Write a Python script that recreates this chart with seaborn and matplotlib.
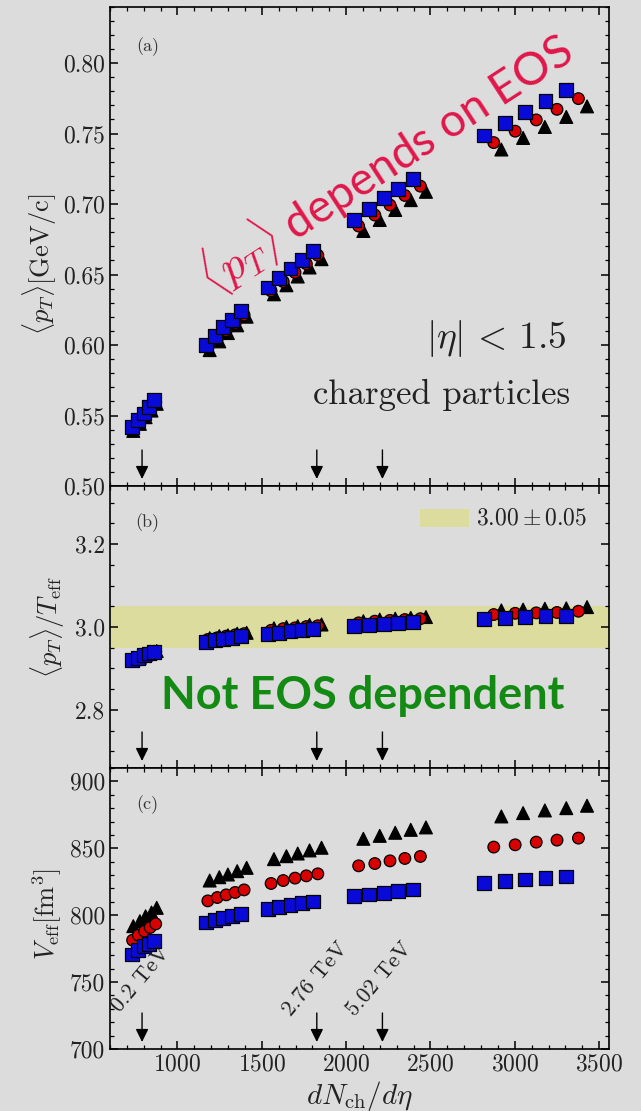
import numpy as np
import pandas as pd
import matplotlib
matplotlib.use("Agg")
import matplotlib.pyplot as plt
import seaborn as sns
from matplotlib.ticker import MultipleLocator, FormatStrFormatter
from matplotlib.patches import Rectangle

# ---------------- data ----------------
eos_names = ["triangle", "circle", "square"]

x_square = [730, 765, 800, 833, 863, 1168, 1223, 1272, 1321, 1375,
            1535, 1602, 1670, 1738, 1805, 2045, 2133, 2223, 2309, 2397,
            2817, 2940, 3059, 3182, 3301]
x_circle = [734, 768, 805, 838, 871, 1180, 1236, 1289, 1342, 1395,
            1555, 1627, 1697, 1764, 1832, 2074, 2170, 2260, 2348, 2440,
            2875, 3002, 3127, 3250, 3377]
x_triangle = [738, 777, 811, 846, 877, 1191, 1248, 1299, 1354, 1410,
              1572, 1646, 1713, 1783, 1854, 2102, 2199, 2291, 2383, 2473,
              2920, 3049, 3178, 3305, 3428]

pt_square = [0.5417, 0.5467, 0.5514, 0.5562, 0.5609, 0.6002, 0.6066, 0.6128, 0.6178, 0.6242,
             0.6408, 0.6476, 0.6543, 0.6604, 0.6668, 0.6887, 0.6965, 0.7040, 0.7108, 0.7179,
             0.7486, 0.7573, 0.7651, 0.7733, 0.7811]
pt_circle = [0.5403, 0.5453, 0.5500, 0.5547, 0.5595, 0.5981, 0.6043, 0.6102, 0.6154, 0.6213,
             0.6384, 0.6450, 0.6514, 0.6576, 0.6637, 0.6844, 0.6922, 0.6993, 0.7061, 0.7127,
             0.7436, 0.7517, 0.7597, 0.7672, 0.7748]
pt_triangle = [0.5391, 0.5441, 0.5488, 0.5535, 0.5583, 0.5964, 0.6026, 0.6085, 0.6140, 0.6201,
               0.6360, 0.6424, 0.6486, 0.6550, 0.6609, 0.6809, 0.6887, 0.6958, 0.7028, 0.7087,
               0.7387, 0.7469, 0.7547, 0.7618, 0.7693]

ratio_square = [2.921, 2.926, 2.932, 2.936, 2.940, 2.964, 2.969, 2.971, 2.973, 2.978,
                2.984, 2.986, 2.990, 2.992, 2.995, 3.002, 3.004, 3.007, 3.009, 3.011,
                3.019, 3.022, 3.024, 3.026, 3.027]
ratio_circle = [2.920, 2.926, 2.932, 2.938, 2.941, 2.970, 2.974, 2.978, 2.981, 2.984,
                2.992, 2.996, 2.998, 3.001, 3.003, 3.010, 3.014, 3.016, 3.018, 3.020,
                3.030, 3.033, 3.034, 3.035, 3.038]
ratio_triangle = [2.920, 2.926, 2.932, 2.937, 2.942, 2.973, 2.978, 2.980, 2.984, 2.986,
                  2.997, 3.000, 3.002, 3.005, 3.006, 3.014, 3.018, 3.020, 3.022, 3.024,
                  3.040, 3.042, 3.044, 3.045, 3.048]

veff_square = [770.6, 774.1, 776.8, 778.8, 780.8, 794.5, 796.5, 798.2, 799.5, 800.7,
               804.5, 806.0, 807.5, 809.0, 810.2, 814.2, 815.5, 816.7, 818.0, 819.2,
               824.2, 825.4, 826.7, 827.9, 828.9]
veff_circle = [781.3, 785.0, 788.0, 790.8, 793.5, 810.7, 813.2, 815.2, 817.0, 818.9,
               823.7, 825.9, 827.7, 829.4, 830.9, 836.9, 838.6, 840.6, 842.4, 843.9,
               850.9, 852.6, 854.6, 856.1, 857.6]
veff_triangle = [791.8, 795.5, 799.2, 802.0, 805.5, 825.9, 828.4, 830.4, 832.9, 835.4,
                 841.9, 844.1, 846.1, 848.4, 850.4, 857.1, 859.3, 861.6, 863.8, 865.6,
                 873.8, 876.3, 878.3, 880.0, 881.8]

arrow_x = [790, 1826, 2215]
energy_labels = ["0.2 TeV", "2.76 TeV", "5.02 TeV"]
energy_label_x = [785, 1818, 2198]

band_center = 3.00
band_halfwidth = 0.05

# ---------------- table ----------------
frames = []
for name, xs, pts, rs, vs in [
        ("triangle", x_triangle, pt_triangle, ratio_triangle, veff_triangle),
        ("circle", x_circle, pt_circle, ratio_circle, veff_circle),
        ("square", x_square, pt_square, ratio_square, veff_square)]:
    frames.append(pd.DataFrame({"dNch": xs, "mean_pt": pts, "ratio": rs,
                                "veff": vs, "eos": name}))
df = pd.concat(frames, ignore_index=True)

# ---------------- style ----------------
sns.set_theme(style="ticks")
bg = "#dcdcdc"
plt.rcParams.update({
    "font.family": ["cmr10", "DejaVu Serif"],
    "mathtext.fontset": "cm",
    "axes.formatter.use_mathtext": True,
    "axes.unicode_minus": False,
    "figure.facecolor": bg, "axes.facecolor": bg, "savefig.facecolor": bg,
    "axes.edgecolor": "black", "axes.linewidth": 1.2,
    "xtick.direction": "in", "ytick.direction": "in",
    "xtick.top": True, "ytick.right": True,
    "xtick.major.size": 5.5, "ytick.major.size": 5.5,
    "xtick.minor.size": 2.8, "ytick.minor.size": 2.8,
    "xtick.major.width": 1.1, "ytick.major.width": 1.1,
    "xtick.minor.width": 0.9, "ytick.minor.width": 0.9,
    "xtick.color": "black", "ytick.color": "black",
    "xtick.labelcolor": "#222222", "ytick.labelcolor": "#222222",
    "xtick.labelsize": 17, "ytick.labelsize": 17,
    "axes.labelcolor": "#222222",
})

markers = {"triangle": "^", "circle": "o", "square": "s"}
palette = {"triangle": "#000000", "circle": "#d80000", "square": "#0a0ad8"}
sizes = {"triangle": 85, "circle": 70, "square": 100}

W, H = 641, 1111
fig = plt.figure(figsize=(W / 100, H / 100), dpi=100)
left = 110 / W
width = (609.3 - 110) / W
panels_px = [(6.7, 486), (486, 768), (768, 1049)]
axes = []
for top, bot in panels_px:
    axes.append(fig.add_axes([left, 1 - bot / H, width, (bot - top) / H]))
ax_a, ax_b, ax_c = axes

cols = ["mean_pt", "ratio", "veff"]
for ax, col in zip(axes, cols):
    sns.scatterplot(data=df, x="dNch", y=col, hue="eos", style="eos", size="eos",
                    markers=markers, palette=palette, sizes=sizes,
                    hue_order=eos_names, style_order=eos_names, size_order=eos_names,
                    edgecolor="black", linewidth=0.9, legend=False, ax=ax, zorder=3)
    ax.set_xlim(600, 3560)
    ax.xaxis.set_major_locator(MultipleLocator(500))
    ax.xaxis.set_minor_locator(MultipleLocator(100))
    ax.set_xlabel("")
    for s in ax.spines.values():
        s.set_visible(True)
        s.set_color("black")

# panel a
ax_a.set_ylim(0.50, 0.84)
ax_a.yaxis.set_major_locator(MultipleLocator(0.05))
ax_a.yaxis.set_minor_locator(MultipleLocator(0.01))
ax_a.yaxis.set_major_formatter(FormatStrFormatter("%.2f"))
ax_a.set_yticks([0.50, 0.55, 0.60, 0.65, 0.70, 0.75, 0.80])
ax_a.tick_params(axis="x", labelbottom=False)

# panel b
ax_b.set_ylim(2.66, 3.34)
ax_b.set_yticks([2.8, 3.0, 3.2])
ax_b.yaxis.set_minor_locator(MultipleLocator(0.05))
ax_b.yaxis.set_major_formatter(FormatStrFormatter("%.1f"))
ax_b.tick_params(axis="x", labelbottom=False)
band_color = "#dcdc9e"
ax_b.axhspan(band_center - band_halfwidth, band_center + band_halfwidth,
             color=band_color, lw=0, zorder=0)
ax_b.add_patch(Rectangle((0.621, 0.8546), 0.098, 0.0638, transform=ax_b.transAxes,
                         color=band_color, lw=0, zorder=1))
ax_b.text(0.733, 0.8865, r"$3.00\pm0.05$", transform=ax_b.transAxes,
          fontsize=17, va="center", ha="left", color="#222222")

# panel c
ax_c.set_ylim(700, 910)
ax_c.set_yticks([700, 750, 800, 850, 900])
ax_c.yaxis.set_minor_locator(MultipleLocator(10))
ax_c.yaxis.set_major_formatter(FormatStrFormatter("%d"))
ax_c.set_xticks([1000, 1500, 2000, 2500, 3000, 3500])
ax_c.set_xlabel(r"$dN_{\mathrm{ch}}/d\eta$", fontsize=21, labelpad=2)

# y labels
ylabels = [r"$\langle p_T\rangle[\mathrm{GeV/c}]$",
           r"$\langle p_T\rangle/T_{\mathrm{eff}}$",
           r"$V_{\mathrm{eff}}[\mathrm{fm}^3]$"]
ylab_pos = [(-0.14, 0.463), (-0.124, 0.5), (-0.126, 0.48)]
for ax, lab, (lx, ly) in zip(axes, ylabels, ylab_pos):
    ax.set_ylabel(lab, fontsize=19)
    ax.yaxis.label.set_va("center")
    ax.yaxis.set_label_coords(lx, ly)

# panel tags
for ax, tag, ty in zip(axes, ["(a)", "(b)", "(c)"], [0.9165, 0.8695, 0.869]):
    ax.text(0.075, ty, tag, transform=ax.transAxes, fontsize=13,
            ha="center", va="center", color="#333333")

# arrows
for ax, (top, bot) in zip(axes, panels_px):
    h = bot - top
    for xa in arrow_x:
        ax.annotate("", xy=(xa, 7 / h), xytext=(xa, 36 / h),
                    xycoords=ax.get_xaxis_transform(),
                    textcoords=ax.get_xaxis_transform(),
                    arrowprops=dict(arrowstyle="-|>,head_length=0.65,head_width=0.32",
                                    color="black", lw=1.0, shrinkA=0, shrinkB=0),
                    zorder=4)

# energy labels
for xe, lab in zip(energy_label_x, energy_labels):
    ax_c.text(xe, 752, lab, rotation=50, rotation_mode="anchor",
              ha="center", va="center", fontsize=16, color="#222222")

# panel a annotations
ax_a.text(0.773, 0.307, r"$|\eta|\,<\,1.5$", transform=ax_a.transAxes,
          fontsize=27, ha="center", va="center", color="#222222")
ax_a.text(0.664, 0.189, "charged particles", transform=ax_a.transAxes,
          fontsize=25, ha="center", va="center", color="#222222")
ax_a.text(2230, 0.729, r"$\langle p_T\rangle$ depends on EOS", rotation=33,
          rotation_mode="anchor", ha="center", va="center", fontsize=33,
          color="#e0174a", family=["Lato", "DejaVu Sans"], fontweight="normal",
          zorder=5)

# panel b annotation
ax_b.text(0.507, 0.255, "Not EOS dependent", transform=ax_b.transAxes,
          fontsize=32.5, ha="center", va="center", color="#138a13",
          family=["Lato", "DejaVu Sans"], fontweight="bold", zorder=5)

fig.savefig("out.png", dpi=100, facecolor=bg)
